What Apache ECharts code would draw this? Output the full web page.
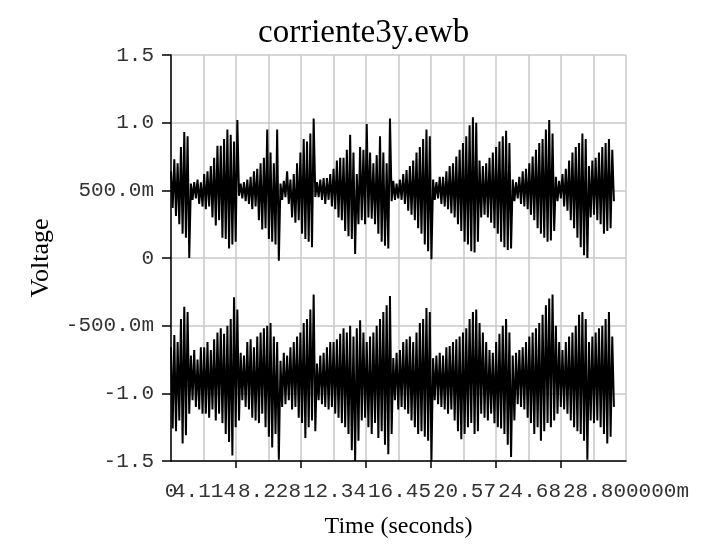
<!DOCTYPE html>
<html>
<head>
<meta charset="utf-8">
<title>corriente3y.ewb</title>
<script src="https://cdn.jsdelivr.net/npm/echarts@6/dist/echarts.min.js"></script>
<style>
  html, body { margin: 0; padding: 0; background: #fff; }
  #main { width: 709px; height: 555px; }
</style>
</head>
<body>
<div id="main"></div>
<script>
// sample step of the scope trace, ms
const dt = 0.105;

// x tick labels (they overlap in the original plot)
const xTickLabels = ['0', '4.114', '8.228', '12.34', '16.45', '20.57', '24.68', '28.800000m'];
const yTickLabels = { '1.5': '1.5', '1': '1.0', '0.5': '500.0m', '0': '0', '-0.5': '-500.0m', '-1': '-1.0', '-1.5': '-1.5' };

// upper trace: peak and trough of every swing
const upperHi = [
  0.64, 0.73, 0.70, 0.82, 0.93, 0.90,
  0.55, 0.56, 0.58, 0.56,
  0.62, 0.64, 0.68, 0.74, 0.83, 0.83, 0.88, 0.95, 0.91, 0.86, 1.02,
  0.55, 0.56,
  0.58, 0.60, 0.64, 0.66, 0.70, 0.74, 0.95, 0.78, 0.70, 0.95,
  0.55, 0.57, 0.64, 0.58, 0.62, 0.70,
  0.78, 0.88, 0.86, 0.92, 1.03,
  0.56, 0.58, 0.59, 0.59, 0.62,
  0.66, 0.72, 0.74, 0.74, 0.80, 0.91, 0.78, 0.62,
  0.82, 0.80, 0.99, 0.78, 0.70, 0.76, 0.90, 0.78, 0.70, 1.03,
  0.57, 0.55,
  0.58, 0.62, 0.65, 0.68, 0.72, 0.78, 0.82, 0.88, 0.95, 0.90,
  0.58, 0.56, 0.60, 0.60, 0.64, 0.68,
  0.70, 0.75, 0.80, 0.85, 0.90, 0.98, 1.04, 1.00,
  0.72, 0.68, 0.70, 0.74,
  0.78, 0.82, 0.86, 0.90, 0.94, 0.85,
  0.58, 0.56, 0.60, 0.64,
  0.66, 0.70, 0.75, 0.80, 0.85, 0.88, 0.95, 1.02, 0.92,
  0.60, 0.57, 0.62,
  0.66, 0.72, 0.78, 0.82, 0.85, 0.92, 0.88,
  0.68, 0.72, 0.74,
  0.78, 0.82, 0.85, 0.88, 0.80
];
const upperLo = [
  0.37, 0.31, 0.25, 0.18, 0.15, 0.00,
  0.43, 0.44, 0.40, 0.38,
  0.36, 0.38, 0.30, 0.24, 0.28, 0.15, 0.14, 0.07, 0.10, 0.12, 0.46,
  0.44, 0.42,
  0.40, 0.36, 0.38, 0.28, 0.21, 0.22, 0.14, 0.12, 0.10, -0.02,
  0.43, 0.45, 0.40, 0.30, 0.26, 0.28,
  0.18, 0.14, 0.12, 0.08, 0.45,
  0.45, 0.43, 0.40, 0.43, 0.38,
  0.36, 0.30, 0.28, 0.20, 0.16, 0.14, 0.03, 0.25,
  0.28, 0.25, 0.30, 0.29, 0.25, 0.18, 0.12, 0.09, 0.07, 0.42,
  0.43, 0.44,
  0.43, 0.40, 0.35, 0.32, 0.28, 0.22, 0.18, 0.10, 0.05, -0.01,
  0.43, 0.44, 0.40, 0.38, 0.36, 0.33,
  0.30, 0.25, 0.20, 0.12, 0.10, 0.05, 0.04, 0.12,
  0.30, 0.32, 0.30, 0.26,
  0.22, 0.18, 0.12, 0.08, 0.06, 0.07,
  0.42, 0.44, 0.40, 0.38,
  0.36, 0.32, 0.28, 0.22, 0.18, 0.15, 0.12, 0.13, 0.20,
  0.42, 0.44, 0.38,
  0.35, 0.28, 0.22, 0.15, 0.08, 0.02, 0.00,
  0.30, 0.32, 0.28,
  0.25, 0.18, 0.20, 0.22, 0.42
];

// lower trace
const lowerHi = [
  -0.66, -0.57, -0.62, -0.45, -0.36, -0.40,
  -0.72, -0.68, -0.75, -0.66,
  -0.66, -0.62, -0.68, -0.60, -0.55, -0.52, -0.56, -0.50, -0.45, -0.29, -0.38,
  -0.70, -0.72,
  -0.62, -0.60, -0.66, -0.58, -0.55, -0.52, -0.50, -0.48, -0.58, -0.62,
  -0.76, -0.70, -0.72, -0.66, -0.62, -0.58,
  -0.55, -0.48, -0.45, -0.38, -0.27,
  -0.78, -0.72, -0.70, -0.66, -0.62,
  -0.62, -0.60, -0.56, -0.52, -0.55, -0.50, -0.58, -0.52,
  -0.46, -0.55, -0.62, -0.58, -0.55, -0.50, -0.45, -0.40, -0.35, -0.28,
  -0.74, -0.70,
  -0.68, -0.62, -0.60, -0.58, -0.62, -0.55, -0.48, -0.45, -0.37, -0.40,
  -0.74, -0.72, -0.70, -0.72, -0.66, -0.65,
  -0.62, -0.60, -0.58, -0.55, -0.52, -0.45, -0.40, -0.38,
  -0.48, -0.55, -0.62, -0.68,
  -0.70, -0.62, -0.56, -0.50, -0.45, -0.55,
  -0.72, -0.70, -0.68, -0.66,
  -0.62, -0.58, -0.55, -0.52, -0.48, -0.42, -0.35, -0.30, -0.27,
  -0.50, -0.62, -0.68,
  -0.62, -0.58, -0.55, -0.50, -0.42, -0.40, -0.45,
  -0.62, -0.58, -0.55,
  -0.52, -0.50, -0.45, -0.40, -0.58
];
const lowerLo = [
  -1.26, -1.28, -1.20, -1.37, -1.31, -1.15,
  -1.05, -1.10, -1.12, -1.15,
  -1.15, -1.18, -1.12, -1.20, -1.15, -1.22, -1.30, -1.36, -1.46, -1.25, -1.20,
  -1.05, -1.10,
  -1.12, -1.18, -1.20, -1.22, -1.15, -1.25, -1.32, -1.40, -1.30, -1.49,
  -1.10, -1.08, -1.05, -1.12, -1.10, -1.18,
  -1.22, -1.33, -1.25, -1.20, -1.28,
  -1.05, -1.08, -1.10, -1.12, -1.10,
  -1.15, -1.18, -1.22, -1.25, -1.30, -1.42, -1.50, -1.35,
  -1.20, -1.18, -1.25, -1.30, -1.22, -1.33, -1.28, -1.38, -1.45, -1.30,
  -1.05, -1.12,
  -1.10, -1.12, -1.15, -1.20, -1.25, -1.30, -1.28, -1.32, -1.35, -1.50,
  -1.05, -1.08, -1.10, -1.12, -1.15, -1.12,
  -1.20, -1.28, -1.34, -1.30, -1.25, -1.22, -1.30, -1.28,
  -1.15, -1.18, -1.20, -1.15,
  -1.22, -1.25, -1.26, -1.30, -1.38, -1.47,
  -1.20, -1.08, -1.10, -1.12,
  -1.18, -1.22, -1.30, -1.25, -1.35, -1.28, -1.22, -1.25, -1.20,
  -1.15, -1.10, -1.12,
  -1.15, -1.20, -1.25, -1.28, -1.30, -1.35, -1.49,
  -1.20, -1.22, -1.20,
  -1.25, -1.30, -1.37, -1.32, -1.10
];

// interleave peaks and troughs into one time series
function trace(hi, lo) {
  const pts = [];
  for (let i = 0; i < hi.length; i++) {
    pts.push([(2 * i) * dt, hi[i]]);
    pts.push([(2 * i + 1) * dt, lo[i]]);
  }
  return pts;
}

const monoFont = '"Liberation Mono", "Courier New", monospace';
const serifFont = '"Liberation Serif", "Times New Roman", serif';
const gridGray = '#c8c8c8';

const xBase = { type: 'value', min: 0, max: 28.8, interval: 4.1143 };
const xLabelStyle = { margin: 20, fontFamily: monoFont, fontSize: 21, color: '#333', align: 'center' };

const chart = echarts.init(document.getElementById('main'));
chart.setOption({
  animation: false,
  backgroundColor: '#fff',
  title: {
    text: 'corriente3y.ewb',
    left: 253,
    top: 12,
    textStyle: { fontFamily: serifFont, fontSize: 33, fontWeight: 'normal', color: '#000' }
  },
  grid: { left: 171, right: 83, top: 55, bottom: 94 },
  xAxis: [
    Object.assign({}, xBase, {
      position: 'bottom',
      name: 'Time (seconds)',
      nameLocation: 'middle',
      nameGap: 54,
      nameTextStyle: { fontFamily: serifFont, fontSize: 24, color: '#000' },
      axisLine: { onZero: false, lineStyle: { color: '#000', width: 1.5 } },
      axisTick: { show: true, length: 7, lineStyle: { color: '#000', width: 1.5 } },
      // inner labels, padded so they end at their tick
      axisLabel: Object.assign({}, xLabelStyle, {
        showMinLabel: false,
        showMaxLabel: false,
        formatter: function (v, i) { return xTickLabels[i] + '     '; }
      }),
      splitLine: { show: true, lineStyle: { color: gridGray, width: 1.5 } },
      minorTick: { show: false, splitNumber: 2 },
      minorSplitLine: { show: true, lineStyle: { color: gridGray, width: 1.5 } }
    }),
    // first and last labels only
    Object.assign({}, xBase, {
      position: 'bottom',
      axisLine: { show: false, onZero: false },
      axisTick: { show: false },
      splitLine: { show: false },
      axisLabel: Object.assign({}, xLabelStyle, {
        showMinLabel: true,
        showMaxLabel: true,
        formatter: function (v, i) {
          return (i === 0 || i === xTickLabels.length - 1) ? xTickLabels[i] : '';
        }
      })
    })
  ],
  yAxis: {
    type: 'value',
    min: -1.5,
    max: 1.5,
    interval: 0.5,
    name: 'Voltage',
    nameLocation: 'middle',
    nameGap: 117,
    nameTextStyle: { fontFamily: serifFont, fontSize: 26, color: '#000' },
    axisLine: { show: true, lineStyle: { color: '#000', width: 1.5 } },
    axisTick: { show: true, length: 9, lineStyle: { color: '#000', width: 1.5 } },
    axisLabel: {
      margin: 17,
      fontFamily: monoFont,
      fontSize: 21,
      color: '#333',
      formatter: function (v) { return yTickLabels[String(v)] || String(v); }
    },
    splitLine: { show: true, lineStyle: { color: gridGray, width: 1.5 } }
  },
  series: [
    {
      type: 'line',
      data: trace(upperHi, upperLo),
      showSymbol: false,
      lineStyle: { color: '#000', width: 2 },
      z: 3
    },
    {
      type: 'line',
      data: trace(lowerHi, lowerLo),
      showSymbol: false,
      lineStyle: { color: '#000', width: 2 },
      z: 3
    }
  ]
});
</script>
</body>
</html>
